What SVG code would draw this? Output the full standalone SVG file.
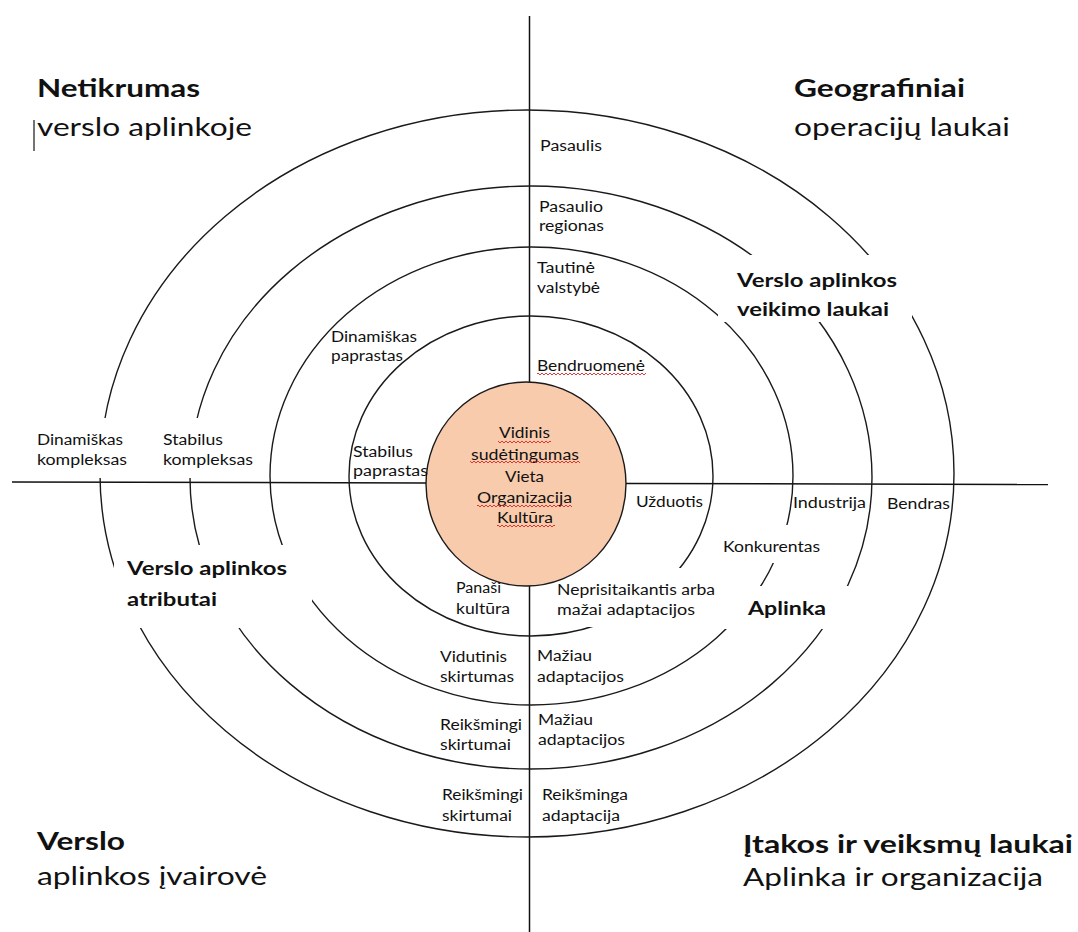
<svg xmlns="http://www.w3.org/2000/svg" width="1078" height="932" viewBox="0 0 1078 932">
  <style>
    .axis { stroke: #111; stroke-width: 1.5; fill: none; }
    .ring { stroke: #1a1a1a; stroke-width: 1.4; fill: none; }
    .mask { fill: #ffffff; stroke: none; }
    .core { fill: #F8CBAD; stroke: #1a1a1a; stroke-width: 1.4; }
    text { font-family: Lato, "Liberation Sans", sans-serif; fill: #111; }
    .sm { font-size: 15.5px; }
    .md { font-size: 19px; font-weight: 700; }
    .lg { font-size: 25px; }
    .lgb { font-size: 25px; font-weight: 700; }
    .spell { fill: url(#squiggle); }
  </style>
  <defs>
    <pattern id="squiggle" width="4" height="4" patternUnits="userSpaceOnUse">
      <path d="M0 3 L2 1 L4 3" fill="none" stroke="#e02424" stroke-width="0.9"/>
    </pattern>
  </defs>

  <rect x="0" y="0" width="1078" height="932" fill="#ffffff"/>

  <!-- quadrant axes -->
  <g id="connectors">
    <line class="axis" x1="529.5" y1="16" x2="529.5" y2="932"/>
    <line class="axis" x1="12" y1="482" x2="1048" y2="484.5"/>
  </g>

  <!-- concentric fields -->
  <g id="rings">
    <ellipse class="ring" cx="531" cy="476" rx="182" ry="160"/>
    <ellipse class="ring" cx="531.5" cy="476" rx="261.5" ry="229"/>
    <ellipse class="ring" cx="531" cy="477.5" rx="341" ry="291.5"/>
    <ellipse class="ring" cx="527" cy="473.5" rx="427" ry="363.5"/>
  </g>

  <!-- opaque text boxes that interrupt the rings -->
  <g id="text-boxes">
    <rect class="mask" x="30" y="418" width="100" height="60"/>
    <rect class="mask" x="158" y="418" width="100" height="60"/>
    <rect class="mask" x="114" y="545" width="198" height="83"/>
    <rect class="mask" x="718" y="255" width="194" height="67"/>
    <rect class="mask" x="716" y="525" width="106" height="38"/>
    <rect class="mask" x="552" y="568" width="172" height="59"/>
    <rect class="mask" x="724" y="586" width="128" height="43"/>
  </g>

  <!-- organisation core -->
  <g id="core">
    <ellipse class="core" cx="526" cy="484" rx="100" ry="102"/>
    <text class="sm" x="499" y="438" textLength="51" lengthAdjust="spacingAndGlyphs">Vidinis</text>
    <text class="sm" x="471" y="460" textLength="108" lengthAdjust="spacingAndGlyphs">sudėtingumas</text>
    <text class="sm" x="505" y="481.5" textLength="39" lengthAdjust="spacingAndGlyphs">Vieta</text>
    <text class="sm" x="477" y="503" textLength="95" lengthAdjust="spacingAndGlyphs">Organizacija</text>
    <text class="sm" x="497" y="522.5" textLength="56" lengthAdjust="spacingAndGlyphs">Kultūra</text>
    <rect class="spell" x="498" y="440" width="53" height="4"/>
    <rect class="spell" x="470" y="460" width="110" height="4"/>
    <rect class="spell" x="477" y="504" width="95" height="4"/>
    <rect class="spell" x="497" y="524" width="58" height="4"/>
  </g>

  <!-- corner headings -->
  <g id="title-uncertainty">
    <text class="lgb" x="37" y="97" textLength="163" lengthAdjust="spacingAndGlyphs">Netikrumas</text>
    <text class="lg" x="37" y="136" textLength="215" lengthAdjust="spacingAndGlyphs">verslo aplinkoje</text>
    <line x1="34" y1="120" x2="34" y2="151" stroke="#444" stroke-width="1.5"/>
  </g>
  <g id="title-geography">
    <text class="lgb" x="794" y="97" textLength="171" lengthAdjust="spacingAndGlyphs">Geografiniai</text>
    <text class="lg" x="794" y="136" textLength="216" lengthAdjust="spacingAndGlyphs">operacijų laukai</text>
  </g>
  <g id="title-diversity">
    <text class="lgb" x="37" y="850" textLength="88" lengthAdjust="spacingAndGlyphs">Verslo</text>
    <text class="lg" x="37" y="885" textLength="230" lengthAdjust="spacingAndGlyphs">aplinkos įvairovė</text>
  </g>
  <g id="title-influence">
    <text class="lgb" x="743" y="853" textLength="330" lengthAdjust="spacingAndGlyphs">Įtakos ir veiksmų laukai</text>
    <text class="lg" x="743" y="886" textLength="300" lengthAdjust="spacingAndGlyphs">Aplinka ir organizacija</text>
  </g>

  <!-- field headings -->
  <g id="field-operation">
    <text class="md" x="737" y="287" textLength="160" lengthAdjust="spacingAndGlyphs">Verslo aplinkos</text>
    <text class="md" x="737" y="316" textLength="152" lengthAdjust="spacingAndGlyphs">veikimo laukai</text>
  </g>
  <g id="field-attributes">
    <text class="md" x="127" y="575" textLength="160" lengthAdjust="spacingAndGlyphs">Verslo aplinkos</text>
    <text class="md" x="127" y="606" textLength="90" lengthAdjust="spacingAndGlyphs">atributai</text>
  </g>
  <g id="field-environment">
    <text class="md" x="748" y="615" textLength="78" lengthAdjust="spacingAndGlyphs">Aplinka</text>
  </g>

  <!-- geographic levels -->
  <g id="geo-world">
    <text class="sm" x="540" y="151" textLength="62" lengthAdjust="spacingAndGlyphs">Pasaulis</text>
  </g>
  <g id="geo-region">
    <text class="sm" x="539" y="212" textLength="64" lengthAdjust="spacingAndGlyphs">Pasaulio</text>
    <text class="sm" x="539" y="231" textLength="65" lengthAdjust="spacingAndGlyphs">regionas</text>
  </g>
  <g id="geo-nation">
    <text class="sm" x="537" y="273" textLength="58" lengthAdjust="spacingAndGlyphs">Tautinė</text>
    <text class="sm" x="537" y="293" textLength="63" lengthAdjust="spacingAndGlyphs">valstybė</text>
  </g>
  <g id="geo-community">
    <text class="sm" x="537" y="371" textLength="108" lengthAdjust="spacingAndGlyphs">Bendruomenė</text>
    <rect class="spell" x="537" y="372" width="109" height="4"/>
  </g>

  <!-- uncertainty levels -->
  <g id="unc-dynamic-simple">
    <text class="sm" x="331" y="342" textLength="86" lengthAdjust="spacingAndGlyphs">Dinamiškas</text>
    <text class="sm" x="331" y="361" textLength="72" lengthAdjust="spacingAndGlyphs">paprastas</text>
  </g>
  <g id="unc-stable-simple">
    <text class="sm" x="353" y="457" textLength="60" lengthAdjust="spacingAndGlyphs">Stabilus</text>
    <text class="sm" x="353" y="476" textLength="75" lengthAdjust="spacingAndGlyphs">paprastas</text>
  </g>
  <g id="unc-dynamic-complex">
    <text class="sm" x="37" y="445" textLength="86" lengthAdjust="spacingAndGlyphs">Dinamiškas</text>
    <text class="sm" x="37" y="465" textLength="90" lengthAdjust="spacingAndGlyphs">kompleksas</text>
  </g>
  <g id="unc-stable-complex">
    <text class="sm" x="163" y="445" textLength="60" lengthAdjust="spacingAndGlyphs">Stabilus</text>
    <text class="sm" x="163" y="465" textLength="90" lengthAdjust="spacingAndGlyphs">kompleksas</text>
  </g>

  <!-- influence levels -->
  <g id="env-task">
    <text class="sm" x="636" y="507" textLength="67" lengthAdjust="spacingAndGlyphs">Užduotis</text>
  </g>
  <g id="env-competitor">
    <text class="sm" x="723" y="552" textLength="97" lengthAdjust="spacingAndGlyphs">Konkurentas</text>
  </g>
  <g id="env-industry">
    <text class="sm" x="793" y="508" textLength="73" lengthAdjust="spacingAndGlyphs">Industrija</text>
  </g>
  <g id="env-general">
    <text class="sm" x="887" y="509" textLength="63" lengthAdjust="spacingAndGlyphs">Bendras</text>
  </g>

  <!-- diversity levels -->
  <g id="div-similar">
    <text class="sm" x="456" y="593" textLength="45" lengthAdjust="spacingAndGlyphs">Panaši</text>
    <text class="sm" x="456" y="614" textLength="54" lengthAdjust="spacingAndGlyphs">kultūra</text>
  </g>
  <g id="adapt-none">
    <text class="sm" x="557" y="595" textLength="158" lengthAdjust="spacingAndGlyphs">Neprisitaikantis arba</text>
    <text class="sm" x="557" y="615" textLength="138" lengthAdjust="spacingAndGlyphs">mažai adaptacijos</text>
  </g>
  <g id="div-medium">
    <text class="sm" x="440" y="662" textLength="67" lengthAdjust="spacingAndGlyphs">Vidutinis</text>
    <text class="sm" x="440" y="682" textLength="74" lengthAdjust="spacingAndGlyphs">skirtumas</text>
  </g>
  <g id="adapt-less-1">
    <text class="sm" x="537" y="661" textLength="55" lengthAdjust="spacingAndGlyphs">Mažiau</text>
    <text class="sm" x="537" y="682" textLength="87" lengthAdjust="spacingAndGlyphs">adaptacijos</text>
  </g>
  <g id="div-significant-1">
    <text class="sm" x="440" y="730" textLength="82" lengthAdjust="spacingAndGlyphs">Reikšmingi</text>
    <text class="sm" x="440" y="750" textLength="71" lengthAdjust="spacingAndGlyphs">skirtumai</text>
  </g>
  <g id="adapt-less-2">
    <text class="sm" x="538" y="725" textLength="55" lengthAdjust="spacingAndGlyphs">Mažiau</text>
    <text class="sm" x="538" y="745" textLength="87" lengthAdjust="spacingAndGlyphs">adaptacijos</text>
  </g>
  <g id="div-significant-2">
    <text class="sm" x="442" y="800" textLength="81" lengthAdjust="spacingAndGlyphs">Reikšmingi</text>
    <text class="sm" x="442" y="821" textLength="70" lengthAdjust="spacingAndGlyphs">skirtumai</text>
  </g>
  <g id="adapt-significant">
    <text class="sm" x="542" y="800" textLength="86" lengthAdjust="spacingAndGlyphs">Reikšminga</text>
    <text class="sm" x="542" y="821" textLength="78" lengthAdjust="spacingAndGlyphs">adaptacija</text>
  </g>
</svg>
